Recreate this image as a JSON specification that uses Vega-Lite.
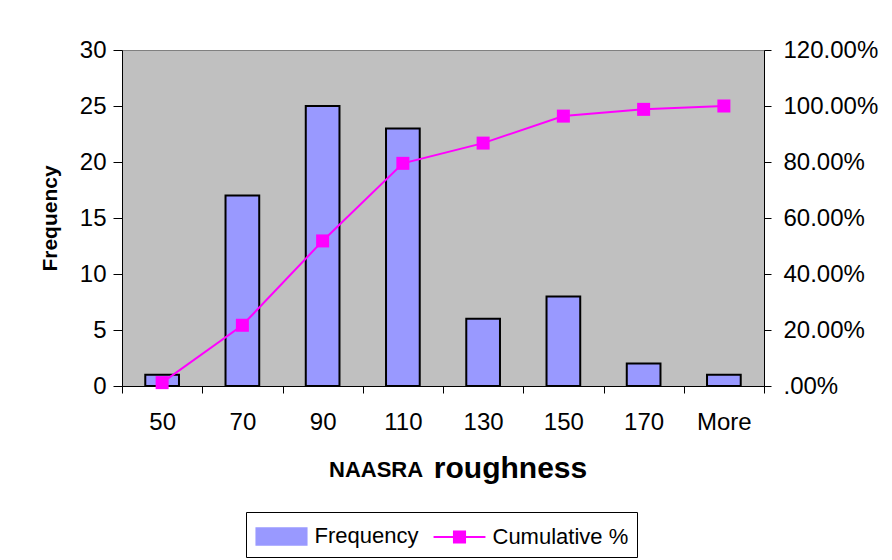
{
  "$schema": "https://vega.github.io/schema/vega-lite/v6.json",
  "width": 642,
  "height": 336,
  "autosize": "none",
  "padding": {"left": 122, "top": 50, "right": 128, "bottom": 174},
  "background": "white",
  "config": {
    "font": "Liberation Sans",
    "view": {"fill": "#c0c0c0", "stroke": "#808080", "strokeWidth": 1},
    "axis": {
      "domainColor": "black",
      "tickColor": "black",
      "labelColor": "black",
      "titleColor": "black",
      "grid": false,
      "labelFont": "Liberation Sans",
      "titleFont": "Liberation Sans",
      "domainWidth": 1,
      "tickWidth": 1
    },
    "legend": {
      "orient": "none",
      "legendX": 124,
      "legendY": 462,
      "direction": "horizontal",
      "strokeColor": "black",
      "fillColor": "white",
      "padding": 8,
      "labelFontSize": 22,
      "labelFont": "Liberation Sans",
      "labelColor": "black",
      "symbolSize": 900,
      "symbolOffset": 11.5,
      "labelOffset": 17,
      "columnPadding": 10,
      "symbolStrokeWidth": 2,
      "symbolStrokeColor": "black"
    }
  },
  "title": {
    "text": "NAASRA",
    "orient": "bottom",
    "anchor": "start",
    "frame": "group",
    "align": "left",
    "baseline": "alphabetic",
    "fontSize": 22,
    "fontWeight": "bold",
    "font": "Liberation Sans",
    "color": "black",
    "offset": 0,
    "dx": 207,
    "dy": -81
  },
  "data": {
    "values": [
      {"bin": "50", "frequency": 1, "cumulative": 0.012},
      {"bin": "70", "frequency": 17, "cumulative": 0.2169},
      {"bin": "90", "frequency": 25, "cumulative": 0.5181},
      {"bin": "110", "frequency": 23, "cumulative": 0.7952},
      {"bin": "130", "frequency": 6, "cumulative": 0.8675},
      {"bin": "150", "frequency": 8, "cumulative": 0.9639},
      {"bin": "170", "frequency": 2, "cumulative": 0.988},
      {"bin": "More", "frequency": 1, "cumulative": 1.0}
    ]
  },
  "encoding": {
    "x": {
      "field": "bin",
      "type": "ordinal",
      "sort": null,
      "scale": {"paddingInner": 0, "paddingOuter": 0},
      "axis": {
        "labelAngle": 0,
        "labelFontSize": 24,
        "labelPadding": 17,
        "tickSize": 7,
        "tickBand": "extent",
        "title": "roughness",
        "titleFontSize": 30,
        "titleFontWeight": "bold",
        "titleX": 388,
        "titleY": 91,
        "titleBaseline": "alphabetic",
        "titleAlign": "center"
      }
    }
  },
  "layer": [
    {
      "mark": {"type": "bar", "width": {"band": 0.42}, "stroke": "black", "strokeWidth": 2},
      "encoding": {
        "y": {
          "field": "frequency",
          "type": "quantitative",
          "scale": {"domain": [0, 30]},
          "axis": {
            "values": [0, 5, 10, 15, 20, 25, 30],
            "title": "Frequency",
            "titleFontSize": 21,
            "titleFontWeight": "bold",
            "titleX": -72,
            "titleY": 168,
            "titleBaseline": "middle",
            "titleAlign": "center",
            "labelFontSize": 24,
            "tickSize": 9,
            "labelPadding": 7
          }
        },
        "color": {
          "datum": "Frequency",
          "type": "nominal",
          "scale": {"domain": ["Frequency", "Cumulative %"], "range": ["#9999ff", "#ff00ff"]},
          "legend": {
            "title": null,
            "encode": {
              "symbols": {
                "update": {
                  "shape": {"signal": "datum.value === 'Frequency' ? 'M-1.67,-0.55H1.67V0.55H-1.67Z' : 'M-1.73,0H1.73M-0.37,-0.37H0.37V0.37H-0.37Z'"},
                  "fill": {"signal": "datum.value === 'Frequency' ? '#9999ff' : '#ff00ff'"},
                  "stroke": {"signal": "datum.value === 'Frequency' ? 'black' : '#ff00ff'"},
                  "strokeWidth": {"value": 2},
                  "opacity": {"value": 1}
                }
              }
            }
          }
        }
      }
    },
    {
      "mark": {
        "type": "line",
        "strokeWidth": 2,
        "point": {"shape": "square", "filled": true, "size": 169}
      },
      "encoding": {
        "y": {
          "field": "cumulative",
          "type": "quantitative",
          "scale": {"domain": [0, 1.2]},
          "axis": {
            "orient": "right",
            "values": [0, 0.2, 0.4, 0.6, 0.8, 1, 1.2],
            "labelExpr": "datum.value === 0 ? '.00%' : format(datum.value, '.2%')",
            "title": null,
            "labelFontSize": 24,
            "tickSize": 7,
            "labelPadding": 12
          }
        },
        "color": {
          "datum": "Cumulative %",
          "type": "nominal",
          "legend": {
            "title": null,
            "encode": {
              "symbols": {
                "update": {
                  "shape": {"signal": "datum.value === 'Frequency' ? 'M-1.67,-0.55H1.67V0.55H-1.67Z' : 'M-1.73,0H1.73M-0.37,-0.37H0.37V0.37H-0.37Z'"},
                  "fill": {"signal": "datum.value === 'Frequency' ? '#9999ff' : '#ff00ff'"},
                  "stroke": {"signal": "datum.value === 'Frequency' ? 'black' : '#ff00ff'"},
                  "strokeWidth": {"value": 2},
                  "opacity": {"value": 1}
                }
              }
            }
          }
        }
      }
    }
  ],
  "resolve": {"scale": {"y": "independent"}}
}
